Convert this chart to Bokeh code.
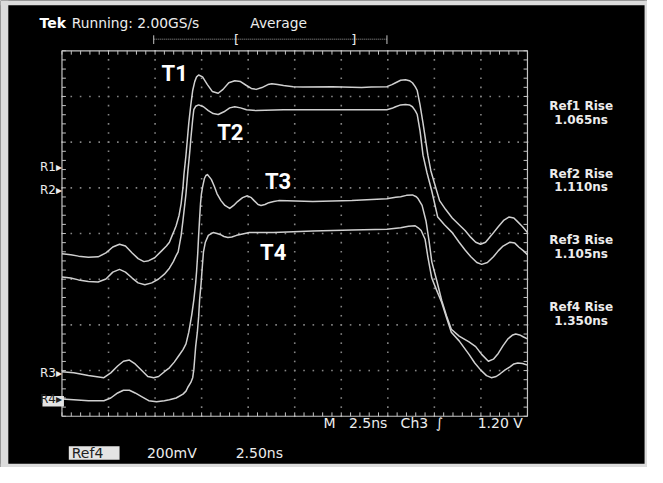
import numpy as np
from bokeh.plotting import figure
from bokeh.models import Range1d
from bokeh.core.properties import value
from bokeh.embed import file_html
from bokeh.resources import INLINE

# ---------------- data (time in ns, level in V; 2.5 ns/div, 200 mV/div) ----------------
t1_t = [0, 0.47, 0.89, 1.42, 1.94, 2.36, 2.73, 3.09, 3.41, 3.77, 4.09, 4.40, 4.66, 4.98, 5.35,
        5.61, 5.77, 5.92, 6.03, 6.13, 6.29, 6.40, 6.50, 6.55, 6.66, 6.76, 6.81, 6.92, 7.02, 7.13,
        7.23, 7.34, 7.55, 7.81, 8.07, 8.39, 8.65, 8.96, 9.28, 9.59, 9.91, 10.17, 10.43, 10.74, 11.06,
        11.27, 11.58, 11.90, 12.42, 12.95, 14.52, 16.09, 16.61, 17.45, 17.72, 17.92, 18.19, 18.45,
        18.66, 18.82, 18.97, 19.08, 19.23, 19.39, 19.65, 19.81, 20.02, 20.28, 20.60, 20.96, 21.33,
        21.65, 21.96, 22.22, 22.48, 22.75, 23.06, 23.43, 23.74, 24.00, 24.27, 24.48, 24.74, 25.00]
t1_v = [0.711, 0.707, 0.701, 0.696, 0.698, 0.715, 0.741, 0.753, 0.745, 0.715, 0.690, 0.677, 0.681,
        0.694, 0.724, 0.745, 0.762, 0.792, 0.813, 0.834, 0.880, 0.931, 1.003, 1.058, 1.143, 1.236,
        1.283, 1.363, 1.426, 1.465, 1.486, 1.494, 1.486, 1.452, 1.422, 1.414, 1.431, 1.460, 1.469,
        1.465, 1.448, 1.435, 1.431, 1.439, 1.452, 1.456, 1.452, 1.448, 1.443, 1.441, 1.443, 1.439,
        1.441, 1.443, 1.452, 1.460, 1.471, 1.473, 1.469, 1.460, 1.443, 1.426, 1.363, 1.283, 1.143,
        1.075, 1.016, 0.944, 0.906, 0.868, 0.838, 0.813, 0.783, 0.762, 0.753, 0.762, 0.792, 0.830,
        0.859, 0.872, 0.868, 0.851, 0.830, 0.804]

t2_t = [0, 0.47, 0.89, 1.42, 1.94, 2.36, 2.73, 3.09, 3.41, 3.77, 4.09, 4.45, 4.82, 5.19, 5.50,
        5.77, 5.98, 6.13, 6.24, 6.40, 6.50, 6.66, 6.76, 6.87, 6.92, 7.02, 7.08, 7.18, 7.34, 7.60,
        7.86, 8.12, 8.39, 8.70, 9.01, 9.28, 9.59, 9.91, 10.43, 11.90, 13.99, 16.09, 17.45, 17.72,
        17.92, 18.19, 18.45, 18.66, 18.82, 18.97, 19.08, 19.23, 19.39, 19.60, 19.86, 20.18, 20.54,
        20.96, 21.33, 21.65, 21.96, 22.28, 22.54, 22.85, 23.17, 23.43, 23.69, 24.06, 24.32, 24.53,
        24.79, 25.00]
t2_v = [0.610, 0.605, 0.597, 0.590, 0.588, 0.601, 0.631, 0.643, 0.631, 0.605, 0.584, 0.576, 0.584,
        0.601, 0.622, 0.648, 0.677, 0.703, 0.720, 0.792, 0.859, 0.974, 1.071, 1.164, 1.215, 1.299,
        1.342, 1.357, 1.363, 1.355, 1.338, 1.325, 1.321, 1.333, 1.350, 1.355, 1.350, 1.342, 1.338,
        1.342, 1.342, 1.342, 1.342, 1.348, 1.355, 1.363, 1.365, 1.363, 1.355, 1.338, 1.321, 1.249,
        1.143, 1.067, 0.986, 0.872, 0.838, 0.804, 0.762, 0.728, 0.698, 0.673, 0.665, 0.673, 0.698,
        0.724, 0.745, 0.762, 0.758, 0.741, 0.724, 0.707]

t3_t = [0, 0.63, 1.42, 2.25, 2.62, 2.99, 3.30, 3.62, 3.93, 4.30, 4.61, 4.93, 5.19, 5.50, 5.77,
        6.03, 6.29, 6.50, 6.66, 6.81, 6.97, 7.08, 7.18, 7.23, 7.29, 7.34, 7.39, 7.44, 7.49, 7.55,
        7.65, 7.73, 7.81, 8.02, 8.18, 8.33, 8.54, 8.75, 9.01, 9.22, 9.43, 9.70, 9.96, 10.17, 10.32,
        10.53, 10.69, 10.90, 11.11, 11.37, 11.64, 13.47, 15.57, 17.45, 17.92, 18.19, 18.50, 18.82,
        19.03, 19.13, 19.34, 19.55, 19.71, 19.86, 20.13, 20.39, 20.65, 20.91, 21.33, 21.86, 22.22,
        22.54, 22.90, 23.17, 23.43, 23.69, 23.95, 24.21, 24.37, 24.58, 24.79, 25.00]
t3_v = [0.195, 0.190, 0.178, 0.169, 0.190, 0.220, 0.241, 0.246, 0.229, 0.199, 0.174, 0.169, 0.174,
        0.195, 0.212, 0.237, 0.267, 0.292, 0.317, 0.368, 0.444, 0.508, 0.584, 0.635, 0.711, 0.792,
        0.863, 0.931, 0.974, 1.003, 1.041, 1.054, 1.058, 1.037, 1.007, 0.974, 0.944, 0.923, 0.910,
        0.923, 0.940, 0.957, 0.965, 0.957, 0.944, 0.927, 0.923, 0.927, 0.935, 0.940, 0.944, 0.940,
        0.944, 0.952, 0.959, 0.961, 0.967, 0.969, 0.961, 0.952, 0.923, 0.855, 0.770, 0.677, 0.593,
        0.508, 0.440, 0.381, 0.351, 0.326, 0.305, 0.271, 0.241, 0.250, 0.275, 0.309, 0.339, 0.356,
        0.360, 0.356, 0.347, 0.339]

t4_t = [0, 0.63, 1.42, 2.25, 2.62, 2.99, 3.30, 3.62, 3.93, 4.30, 4.66, 5.08, 5.50, 5.77, 6.13,
        6.50, 6.66, 6.76, 6.92, 7.02, 7.08, 7.13, 7.18, 7.27, 7.34, 7.39, 7.47, 7.53, 7.60, 7.70,
        7.86, 8.02, 8.12, 8.33, 8.49, 8.70, 8.91, 9.12, 9.38, 9.70, 10.06, 11.37, 13.47, 15.57,
        17.45, 18.19, 18.61, 18.97, 19.13, 19.29, 19.50, 19.65, 19.86, 20.13, 20.39, 20.65, 20.91,
        21.33, 21.86, 22.17, 22.48, 22.80, 23.06, 23.32, 23.53, 23.80, 24.06, 24.27, 24.48, 24.74,
        25.00]
t4_v = [0.076, 0.072, 0.068, 0.068, 0.080, 0.102, 0.114, 0.114, 0.102, 0.085, 0.068, 0.063, 0.068,
        0.072, 0.080, 0.097, 0.110, 0.127, 0.148, 0.169, 0.203, 0.254, 0.305, 0.368, 0.436, 0.508,
        0.580, 0.648, 0.720, 0.762, 0.792, 0.800, 0.804, 0.800, 0.796, 0.787, 0.783, 0.785, 0.792,
        0.798, 0.804, 0.804, 0.811, 0.815, 0.819, 0.825, 0.832, 0.834, 0.825, 0.813, 0.775, 0.698,
        0.605, 0.550, 0.499, 0.432, 0.368, 0.330, 0.271, 0.233, 0.203, 0.178, 0.169, 0.174, 0.186,
        0.203, 0.216, 0.229, 0.233, 0.231, 0.224]

trace_labels = ["T1", "T2", "T3", "T4"]
ref_names = ["R1", "R2", "R3", "R4"]
ref_levels = [1.092, 0.990, 0.190, 0.076]
rise_labels = ["Ref1 Rise", "Ref2 Rise", "Ref3 Rise", "Ref4 Rise"]
rise_values = ["1.065ns", "1.110ns", "1.105ns", "1.350ns"]

NS_PER_DIV = 2.5
V_PER_DIV = 0.2
N_XDIV = 10
N_YDIV = 8

# ---------------- layout helpers (reference pixel -> data) ----------------
GX0, GX1, GY0, GY1 = 63, 540, 52, 430   # graticule box in reference pixels
XW = N_XDIV * NS_PER_DIV
YH = N_YDIV * V_PER_DIV


def X(px):
    return (px - GX0) / (GX1 - GX0) * XW


def Y(py):
    return (GY1 - py) / (GY1 - GY0) * YH


W, H = 647, 467
p = figure(width=W, height=H, output_backend="svg", toolbar_location=None,
           x_range=Range1d(X(0), X(663)), y_range=Range1d(Y(483), Y(0)),
           x_axis_location=None, y_axis_location=None, min_border=0)
p.background_fill_color = "#000000"
p.border_fill_color = "#000000"
p.outline_line_color = None
p.grid.visible = False

FONT = value("DejaVu Sans")
TXT = "#ececec"
GRID = "#858585"
TRACE = "#d0d0d0"
EDGE = "#c4c4c4"

# light photo border
p.quad(left=[X(0), X(0), X(0), X(660)], right=[X(8), X(663), X(663), X(663)],
       bottom=[Y(483), Y(5), Y(483), Y(483)], top=[Y(0), Y(0), Y(479), Y(0)],
       fill_color="#dcdcdc", line_color=None)

# ---------------- graticule ----------------
major_x = np.arange(1, N_XDIV) * NS_PER_DIV
major_y = np.arange(1, N_YDIV) * V_PER_DIV
minor_x = np.arange(0, N_XDIV * 5 + 1) * NS_PER_DIV / 5
minor_y = np.arange(0, N_YDIV * 5 + 1) * V_PER_DIV / 5
vx, vy = np.meshgrid(major_x, minor_y)
hx, hy = np.meshgrid(minor_x, major_y)
p.scatter(np.concatenate([vx.ravel(), hx.ravel()]), np.concatenate([vy.ravel(), hy.ravel()]),
          marker="square", size=1.6, line_color=None, fill_color=GRID)

p.quad(left=0, right=XW, bottom=0, top=YH, fill_alpha=0, line_color=EDGE, line_width=1.2)
tx = X(GX0 + 4) - X(GX0)
ty = Y(GY1 - 4) - Y(GY1)
p.segment(x0=minor_x, y0=YH, x1=minor_x, y1=YH - ty, line_color=EDGE, line_width=1)
p.segment(x0=minor_x, y0=0, x1=minor_x, y1=ty, line_color=EDGE, line_width=1)
p.segment(x0=0, y0=minor_y, x1=tx, y1=minor_y, line_color=EDGE, line_width=1)
p.segment(x0=XW, y0=minor_y, x1=XW - tx, y1=minor_y, line_color=EDGE, line_width=1)

# ---------------- traces ----------------
for tt, vv in [(t1_t, t1_v), (t2_t, t2_v), (t3_t, t3_v), (t4_t, t4_v)]:
    p.line(tt, vv, line_color=TRACE, line_width=1.5, line_join="round")

# trace labels
p.text(x=[X(165), X(222), X(271), X(266)], y=[Y(76), Y(137), Y(187), Y(261)], text=trace_labels,
       text_font=value("Roboto"), text_font_style="bold", text_font_size="22px",
       text_color="#ffffff", text_baseline="middle", text_align="left")

# reference markers
p.quad(left=[X(43)], right=[X(65)], bottom=[Y(420)], top=[Y(409)], fill_color="#e4e4e4", line_color=None)
p.text(x=[X(63)] * 4, y=ref_levels, text=[n + "\u25b8" for n in ref_names], text_font=FONT,
       text_font_size="12px", text_color=[TXT, TXT, TXT, "#202020"], text_baseline="middle",
       text_align="right")

# ---------------- header ----------------
p.text(x=[X(40)], y=[Y(23)], text=["Tek"], text_font=FONT, text_font_style="bold",
       text_font_size="14px", text_color="#ffffff", text_baseline="middle")
p.text(x=[X(73), X(256)], y=[Y(23), Y(23)], text=["Running: 2.00GS/s", "Average"], text_font=FONT,
       text_font_size="13.8px", text_color=TXT, text_baseline="middle")
p.segment(x0=[X(157)], y0=[Y(40)], x1=[X(396)], y1=[Y(40)], line_color="#a0a0a0", line_width=1,
          line_dash="1 1")
p.segment(x0=[X(157), X(396)], y0=[Y(36), Y(36)], x1=[X(157), X(396)], y1=[Y(45), Y(45)],
          line_color=EDGE, line_width=1)
p.text(x=[X(242), X(362)], y=[Y(40), Y(40)], text=["[", "]"], text_font=FONT, text_font_size="13px",
       text_color=TXT, text_baseline="middle", text_align="center")

# ---------------- bottom status ----------------
p.text(x=[X(331), X(357), X(410), X(446), X(489)], y=[Y(437)] * 5,
       text=["M", "2.5ns", "Ch3", "\u222b", "1.20 V"], text_font=FONT, text_font_size="14px",
       text_color=TXT, text_baseline="middle")
p.quad(left=[X(70)], right=[X(122)], bottom=[Y(475)], top=[Y(461)], fill_color="#e4e4e4", line_color=None)
p.text(x=[X(73), X(150), X(241)], y=[Y(468)] * 3, text=["Ref4", "200mV", "2.50ns"], text_font=FONT,
       text_font_size="14px", text_color=["#202020", TXT, TXT], text_baseline="middle")

# ---------------- right readouts ----------------
rise_y = [109.5, 179, 248, 317.5]
p.text(x=[X(595)] * 4, y=[Y(v) for v in rise_y], text=rise_labels, text_font=FONT,
       text_font_style="bold", text_font_size="12px", text_color=TXT, text_baseline="middle",
       text_align="center")
p.text(x=[X(595)] * 4, y=[Y(v + 14) for v in rise_y], text=rise_values, text_font=FONT,
       text_font_style="bold", text_font_size="12px", text_color=TXT, text_baseline="middle",
       text_align="center")

open("out.html", "w").write(file_html(p, INLINE))
